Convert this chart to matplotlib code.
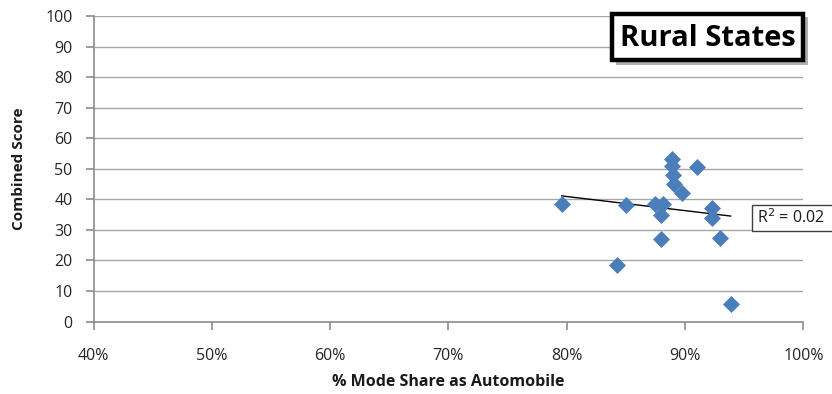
import matplotlib
matplotlib.use("Agg")
import matplotlib.pyplot as plt
import numpy as np
from matplotlib.ticker import FuncFormatter
from matplotlib.patches import Rectangle

x_share = [79.58, 85.01, 88.88, 88.93, 89.01, 89.10, 91.04, 89.72, 87.46, 88.11,
           87.95, 87.95, 84.23, 92.31, 92.31, 92.96, 93.86]
y_score = [38.6, 38.0, 53.3, 50.8, 47.9, 44.9, 50.6, 41.9, 38.3, 38.3,
           34.8, 26.9, 18.4, 37.3, 33.9, 27.3, 5.8]
r2_label = "R$^2$ = 0.02"
title = "Rural States"
x_ticks = [40, 50, 60, 70, 80, 90, 100]
y_ticks = list(range(0, 101, 10))

plt.rcParams['font.family'] = ['Open Sans', 'DejaVu Sans']

W, H = 832, 394
fig = plt.figure(figsize=(W/100, H/100), dpi=100)
ax = fig.add_axes([93.5/W, 1-321.5/H, (803.3-93.5)/W, (321.5-16)/H])

ax.set_xlim(40, 100)
ax.set_ylim(0, 100)
ax.set_xticks(x_ticks)
ax.set_yticks(y_ticks)
ax.xaxis.set_major_formatter(FuncFormatter(lambda v, p: f"{int(v)}%"))
ax.grid(axis='y', color='#a6a6a6', linewidth=1)
ax.set_axisbelow(True)
for s in ['top', 'right']:
    ax.spines[s].set_visible(False)
for s in ['left', 'bottom']:
    ax.spines[s].set_color('#8c8c8c')
    ax.spines[s].set_linewidth(1.2)
ax.tick_params(axis='both', colors='#8c8c8c', labelcolor='#262626',
               labelsize=11.5, length=5.5, width=1.2)
ax.tick_params(axis='x', pad=13.5)
ax.tick_params(axis='y', pad=9.5)

ax.scatter(x_share, y_score, marker='D', s=75, color='#4a7ebb', zorder=3,
           linewidths=0)

coef = np.polyfit(x_share, y_score, 1)
xs = np.array([min(x_share), max(x_share)])
ax.plot(xs, np.polyval(coef, xs), color='black', linewidth=1, zorder=2)

ax.set_xlabel("% Mode Share as Automobile", fontsize=11.5, fontweight='bold',
              color='#1a1a1a', labelpad=7)
ax.set_ylabel("Combined Score", fontsize=11, fontweight='bold',
              color='#1a1a1a', labelpad=14)

def px(x0, y0, w, h, **kw):
    return Rectangle((x0/W, 1-(y0+h)/H), w/W, h/H, transform=fig.transFigure,
                     **kw)

# R^2 label box (runs off the right edge)
fig.patches.append(px(752, 205, 100, 26, fc='white', ec='#404040', lw=1,
                      zorder=5))
fig.text(757/W, 1-218/H, r2_label, fontsize=11.5, color='#1a1a1a',
         va='center', ha='left', zorder=6)

# Title box with shadow
fig.patches.append(px(616, 17, 192, 48, fc='#b0b0b0', ec='none', zorder=4))
fig.patches.append(px(612, 14, 191, 46, fc='white', ec='black', lw=3.2,
                      zorder=5))
fig.text(707.5/W, 1-38/H, title, fontsize=21, fontweight='bold',
         color='black', va='center', ha='center', zorder=6)

fig.savefig("out.png", dpi=100)
